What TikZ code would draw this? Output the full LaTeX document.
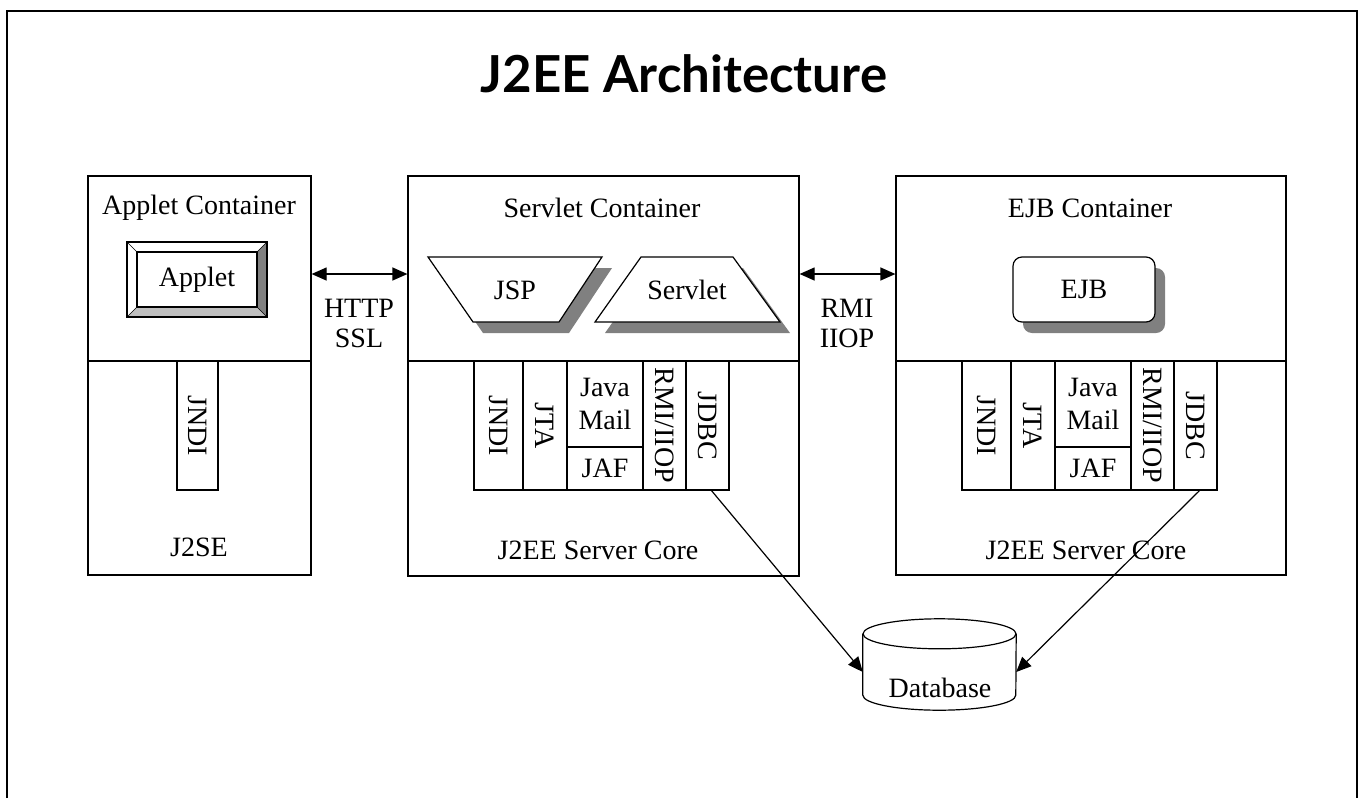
\documentclass[tikz,border=0pt]{standalone}
\usepackage{fontspec}
\usepackage{graphicx}
\setmainfont{Liberation Serif}
\newfontfamily\headfont{Lato}
\usetikzlibrary{arrows.meta,shadows}

\tikzset{
  box/.style={draw, line width=1.2pt, inner sep=0pt, fill=white},
  col/.style={draw, line width=1.2pt, inner sep=0pt, minimum height=129pt, font=\fontsize{28}{31}\selectfont},
  txt/.style={inner sep=0pt, font=\fontsize{28}{30}\selectfont},
  shade/.style={fill=black!50, draw=none},
  link/.style={line width=1.2pt, {Triangle[length=15pt,width=13pt]}-{Triangle[length=15pt,width=13pt]}},
  dblink/.style={line width=1.2pt, -{Triangle[length=15pt,width=13pt]}},
}

\begin{document}
\begin{tikzpicture}[x=1pt, y=-1pt]
\useasboundingbox (0,0) rectangle (1360,798);
% page frame, open at the bottom
\draw[line width=2.4pt] (7,798) -- (7,11) -- (1357,11) -- (1357,798);

\node[font=\headfont\bfseries\fontsize{51}{55}\selectfont] (title) at (684,74) {J2EE Architecture};

% the three containers, upper and lower halves
\node[box, minimum width=223pt, minimum height=185pt] (appletTop) at (199.5,268.5) {};
\node[box, minimum width=223pt, minimum height=214pt] (appletBase) at (199.5,468) {};
\node[box, minimum width=391pt, minimum height=185pt] (servletTop) at (603.5,268.5) {};
\node[box, minimum width=391pt, minimum height=215pt] (servletBase) at (603.5,468.5) {};
\node[box, minimum width=390pt, minimum height=185pt] (ejbTop) at (1091,268.5) {};
\node[box, minimum width=390pt, minimum height=214pt] (ejbBase) at (1091,468) {};

\node[txt] (appletCap) at (199,208) {Applet Container};
\node[txt] (servletCap) at (602,208) {Servlet Container};
\node[txt] (ejbCap) at (1090,208) {EJB Container};
\node[txt] (j2se) at (199,547) {J2SE};
\node[txt] (srvCore) at (598,550) {J2EE Server Core};
\node[txt] (ejbCore) at (1086,550) {J2EE Server Core};

% bevelled applet button
\fill[black!50] (257,252) -- (267,242) -- (267,317) -- (257,307) -- cycle;
\fill[black!25] (137,307) -- (257,307) -- (267,317) -- (127,317) -- cycle;
\draw[line width=1.2pt] (127,242) rectangle (267,317);
\draw (127,242) -- (137,252) (267,242) -- (257,252) (127,317) -- (137,307) (267,317) -- (257,307);
\node[box, txt, draw, line width=1.2pt, minimum width=120pt, minimum height=55pt] (applet) at (197,279.5) {Applet};

\node[col, minimum width=41pt] (appJNDI) at (197.5,425.5) {\rotatebox{-90}{JNDI}};

% JSP and servlet with their shadows
\fill[shade] (438,268) -- (612,268) -- (569,333) -- (483,333) -- cycle;
\draw[box] (428,257) -- (602,257) -- (559,322) -- (473,322) -- cycle;
\node[txt] (jsp) at (515,290) {JSP};
\fill[shade] (651,268) -- (743,268) -- (790,333) -- (605,333) -- cycle;
\draw[box] (641,257) -- (733,257) -- (780,322) -- (595,322) -- cycle;
\node[txt] (servlet) at (687,290) {Servlet};

\node[box, txt, rounded corners=9pt, minimum width=142pt, minimum height=65pt,
  drop shadow={shadow xshift=10pt, shadow yshift=-11pt, fill=black!50, opacity=1}] (ejb) at (1084,289.5) {EJB};

% service APIs, same stack in both servers
\foreach \dx/\sv in {0/srv, 488/ejb} {
  \node[col, minimum width=49pt] (\sv JNDI) at (498.5+\dx,425.5) {\rotatebox{-90}{JNDI}};
  \node[col, minimum width=44pt] (\sv JTA) at (545+\dx,425.5) {\rotatebox{-90}{JTA}};
  \node[col, minimum width=76pt, minimum height=86pt, align=center] (\sv Mail) at (605+\dx,404) {Java\\[2pt]Mail};
  \node[col, minimum width=76pt, minimum height=43pt] (\sv JAF) at (605+\dx,468.5) {JAF};
  \node[col, minimum width=43pt] (\sv RMI) at (664.5+\dx,425.5) {\rotatebox{-90}{RMI/IIOP}};
  \node[col, minimum width=43pt] (\sv JDBC) at (707.5+\dx,425.5) {\rotatebox{-90}{JDBC}};
}

% protocols between containers
\draw[link] ([yshift=-5.5pt]appletTop.east) -- ([yshift=-5.5pt]servletTop.west);
\node[txt, align=center] (httpLbl) at (359,323) {HTTP\\SSL};
\draw[link] ([yshift=-5.5pt]servletTop.east) -- ([yshift=-5.5pt]ejbTop.west);
\node[txt, align=center] (rmiLbl) at (847,323) {RMI\\IIOP};

% database
\node[minimum width=153pt, minimum height=61pt, inner sep=0pt] (db) at (939.5,664.5) {};
\draw[line width=1.2pt, fill=white] (db.north west) -- (db.south west)
  arc[start angle=180, end angle=360, x radius=76.5pt, y radius=15pt] -- (db.north east);
\draw[line width=1.2pt] (db.north) ellipse[x radius=76.5pt, y radius=15pt];
\node[txt] (dbLbl) at (940,688) {Database};

\draw[dblink] ([xshift=4pt]srvJDBC.south) -- ([yshift=-7.5pt]db.west);
\draw[dblink] ([xshift=4pt]ejbJDBC.south) -- ([yshift=-7.5pt]db.east);
\end{tikzpicture}
\end{document}
